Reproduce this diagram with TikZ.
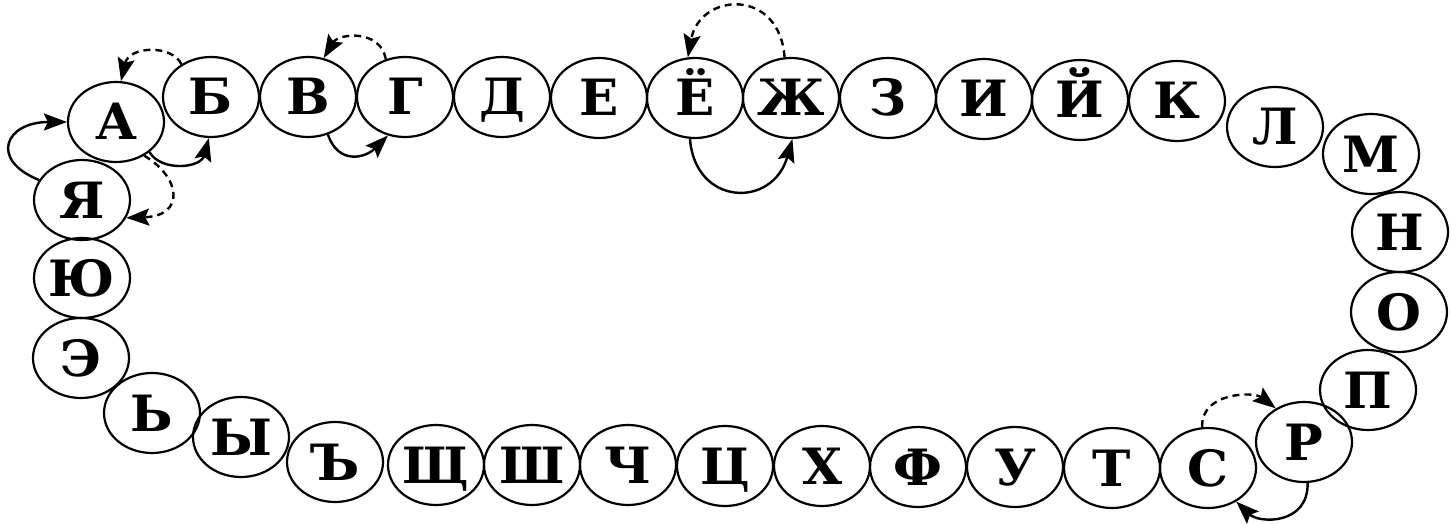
\documentclass[tikz,border=0pt]{standalone}
\usepackage{fontspec}
\setmainfont{DejaVu Serif}
\newfontfamily\letfont{DejaVu Serif}[FakeStretch=1.03]
\usetikzlibrary{shapes.geometric,arrows.meta}
\begin{document}
\begin{tikzpicture}[x=1pt,y=-1pt,
  let/.style={ellipse,draw,line width=2.2pt,minimum width=96pt,minimum height=80pt,inner sep=0pt,
    font=\letfont\bfseries\fontsize{50}{50}\selectfont,text height=36pt,text depth=0pt},
  sarr/.style={line width=2.4pt,-{Stealth[length=23pt,width=17pt,inset=4pt]}},
  darr/.style={sarr,dash pattern=on 7pt off 5pt}]
\useasboundingbox[fill=white] (0,0) rectangle (1451,524);
\node[let] (A) at (116,122) {А};
\node[let] (B) at (211,97) {Б};
\node[let] (V) at (308,97) {В};
\node[let] (G) at (405,97) {Г};
\node[let] (D) at (502,97) {Д};
\node[let] (E) at (599,98) {Е};
\node[let] (Yo) at (695,98) {Ё};
\node[let] (Zh) at (791,98) {Ж};
\node[let] (Z) at (888,98) {З};
\node[let] (I) at (984,99) {И};
\node[let] (Ij) at (1080,100) {Й};
\node[let] (K) at (1177,101) {К};
\node[let] (L) at (1275,127) {Л};
\node[let] (M) at (1371,154) {М};
\node[let] (N) at (1400,232) {Н};
\node[let] (O) at (1399,312) {О};
\node[let] (P) at (1368,390) {П};
\node[let] (R) at (1304,442) {Р};
\node[let] (S) at (1208,468) {С};
\node[let] (T) at (1112,468) {Т};
\node[let] (U) at (1015,467) {У};
\node[let] (F) at (918,467) {Ф};
\node[let] (H) at (822,466) {Х};
\node[let] (C) at (725,466) {Ц};
\node[let] (Ch) at (628,465) {Ч};
\node[let] (Sh) at (532,465) {Ш};
\node[let] (Shch) at (436,465) {Щ};
\node[let] (Hard) at (335,462) {Ъ};
\node[let] (Y) at (241,437) {Ы};
\node[let] (Soft) at (152,413) {Ь};
\node[let] (Ee) at (81,358) {Э};
\node[let] (Yu) at (82,278) {Ю};
\node[let] (Ya) at (82,200) {Я};
% connectors
\draw[sarr] (Ya.155) .. controls +(-50,-20) and +(-62,0) .. (A.180);
\draw[sarr] (A.-42) .. controls +(12,20) and +(-8,30) .. (B.-93);
\draw[darr] (B.132) .. controls +(-10,-20) and +(8,-35) .. (A.83);
\draw[darr] (A.-50) .. controls +(37,22) and +(59,-2) .. (Ya.-22);
\draw[darr] (G.117) .. controls +(-5,-30) and +(15,-25) .. (V.68);
\draw[sarr] (V.-62) .. controls +(10,30) and +(-23,23) .. (G.-114);
\draw[darr] (Zh.99) .. controls +(-5,-70) and +(12,-65) .. (Yo.100);
\draw[sarr] (Yo.-97) .. controls +(5,67) and +(-20,70) .. (Zh.-88);
\draw[darr] (S.98) .. controls +(-2,-35) and +(-22,-17) .. (R.130);
\draw[sarr] (R.-85) .. controls +(1,42) and +(23,22) .. (S.-50);
\end{tikzpicture}
\end{document}
